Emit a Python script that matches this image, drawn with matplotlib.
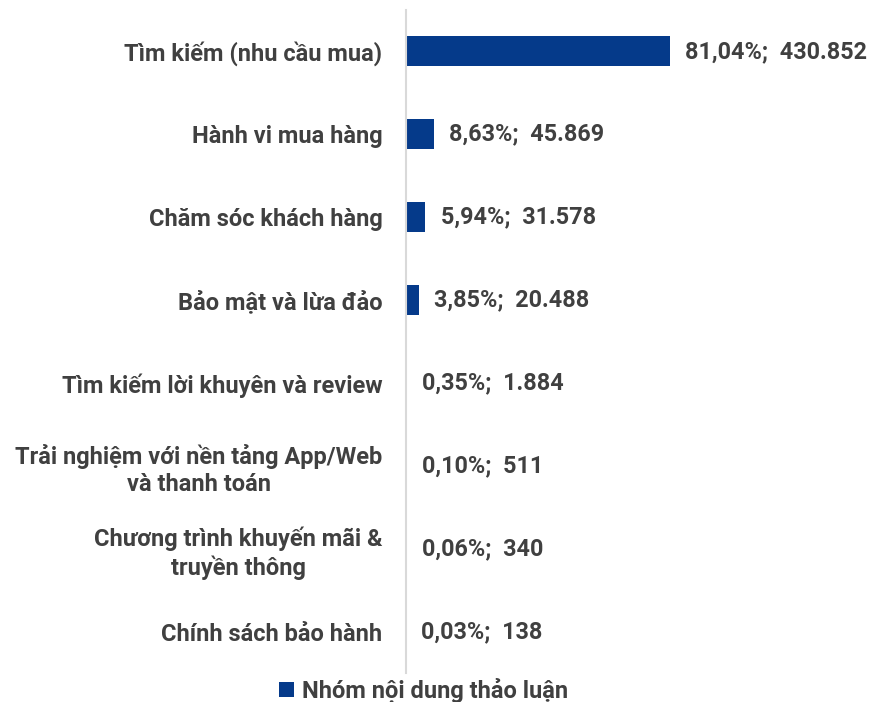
import matplotlib.pyplot as plt
import numpy as np

categories = [
    "Tìm kiếm (nhu cầu mua)",
    "Hành vi mua hàng",
    "Chăm sóc khách hàng",
    "Bảo mật và lừa đảo",
    "Tìm kiếm lời khuyên và review",
    "Trải nghiệm với nền tảng App/Web\nvà thanh toán",
    "Chương trình khuyến mãi &\ntruyền thông",
    "Chính sách bảo hành",
]
percents = [81.04, 8.63, 5.94, 3.85, 0.35, 0.10, 0.06, 0.03]
counts = ["430.852", "45.869", "31.578", "20.488", "1.884", "511", "340", "138"]
series_name = "Nhóm nội dung thảo luận"

bar_color = "#053a8a"
text_color = "#404040"

plt.rcParams['font.family'] = ['Roboto', 'DejaVu Sans']

fig = plt.figure(figsize=(8.7, 7.02), dpi=100)

ax = fig.add_axes([0.4667, 0.041, 0.5333, 0.945])

y = np.arange(len(categories))
bars = ax.barh(y, percents, height=0.36, color=bar_color, label=series_name,
               zorder=2)

ax.set_ylim(len(categories) - 0.5, -0.5)
ax.set_xlim(0, 142.4)

for yi, p, c in zip(y, percents, counts):
    lab = f"{p:.2f}".replace(".", ",") + "%;  " + c
    ax.annotate(lab, (p, yi), xytext=(11, 0), textcoords='offset points',
                va='center', ha='left', fontsize=16.8, fontweight='bold',
                color=text_color, zorder=3)

ax.set_yticks(y)
ax.set_yticklabels(categories, fontsize=17, fontweight='bold', color=text_color,
                   ha='right', multialignment='center', linespacing=1.2)
ax.tick_params(axis='y', length=0, pad=17)
ax.set_xticks([])

for s in ['top', 'right', 'bottom']:
    ax.spines[s].set_visible(False)
ax.spines['left'].set_color("#d9d9d9")
ax.spines['left'].set_linewidth(1.5)

leg = fig.legend(handles=[bars], labels=[series_name], loc='center',
                 bbox_to_anchor=(0.487, 0.017), frameon=False,
                 handlelength=0.6, handleheight=0.6, handletextpad=0.35,
                 prop={'size': 17, 'weight': 'bold'})
for t in leg.get_texts():
    t.set_color(text_color)

fig.savefig("out.png", dpi=100)
